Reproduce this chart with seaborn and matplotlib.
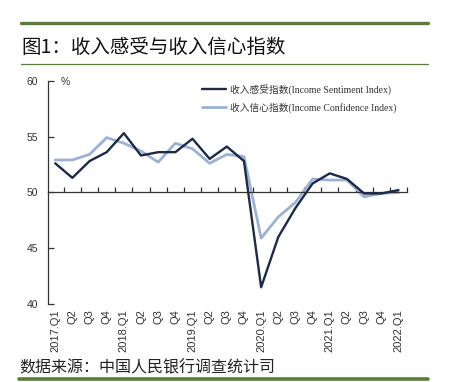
import matplotlib
matplotlib.use("Agg")
import matplotlib.pyplot as plt
from matplotlib.lines import Line2D
import seaborn as sns
import pandas as pd
import numpy as np

quarters = ["2017.Q1", "Q2", "Q3", "Q4", "2018.Q1", "Q2", "Q3", "Q4",
            "2019.Q1", "Q2", "Q3", "Q4", "2020.Q1", "Q2", "Q3", "Q4",
            "2021.Q1", "Q2", "Q3", "Q4", "2022.Q1"]
sentiment = [52.6, 51.3, 52.8, 53.6, 55.3, 53.3, 53.6, 53.6, 54.8, 53.0, 54.1,
             52.8, 41.5, 46.0, 48.6, 50.8, 51.7, 51.2, 49.9, 49.9, 50.2]
confidence = [52.9, 52.9, 53.4, 54.9, 54.4, 53.7, 52.7, 54.4, 53.9, 52.6, 53.4,
              53.2, 45.9, 47.8, 49.1, 51.2, 51.1, 51.1, 49.6, 49.9, 50.0]
series_names = ["收入感受指数(Income Sentiment Index)", "收入信心指数(Income Confidence Index)"]
yticks = [40, 45, 50, 55, 60]

title_text = "图1：收入感受与收入信心指数"
source_text = "数据来源：中国人民银行调查统计司"

sns.set_theme(style="white")
plt.rcParams['font.family'] = ['Noto Sans CJK SC', 'DejaVu Sans']

dark = "#1c2a4a"
light = "#9bb1d6"
green = "#5a7b3a"

n = len(quarters)
df = pd.DataFrame({
    "idx": list(range(n)) * 2,
    "value": sentiment + confidence,
    "series": [series_names[0]] * n + [series_names[1]] * n,
})

fig = plt.figure(figsize=(4.49, 3.82), dpi=100)
ax = fig.add_axes([48/449, 1-304/382, (407-48)/449, (304-80.7)/382])

sns.lineplot(data=df, x="idx", y="value", hue="series",
             palette={series_names[0]: dark, series_names[1]: light},
             ax=ax, legend=False, linewidth=1.6)
for line, lw in zip(ax.lines, [1.7, 2.0]):
    line.set_linewidth(lw)
ax.lines[0].set_zorder(3)
ax.lines[1].set_zorder(2)

ax.set_xlim(-0.42, 20.5)
ax.set_ylim(40, 60)
ax.set_yticks(yticks)
ax.set_yticklabels([str(v) for v in yticks], fontsize=7.5, color="#333333",
                   family=['Liberation Sans', 'DejaVu Sans'])
ax.tick_params(axis='y', direction='in', length=4, width=0.9, color="#333333", pad=7, left=True)
ax.set_xlabel("")
ax.set_ylabel("")
for s in ["top", "right"]:
    ax.spines[s].set_visible(False)
ax.spines["left"].set_color("#333333")
ax.spines["left"].set_linewidth(0.9)
ax.spines["bottom"].set_position(("data", 50))
ax.spines["bottom"].set_color("#333333")
ax.spines["bottom"].set_linewidth(0.9)
ax.set_xticks(np.arange(0.5, n, 1.0))
ax.set_xticklabels([])
ax.tick_params(axis='x', direction='in', length=3.5, width=0.9, color="#333333", bottom=True)

sec = ax.secondary_xaxis(0)
sec.set_xticks(range(n))
sec.set_xticklabels(quarters, rotation=90, fontsize=8, color="#333333",
                    family=['Liberation Sans', 'DejaVu Sans'])
sec.tick_params(axis='x', length=0, pad=4)
sec.spines["bottom"].set_visible(False)

ax.text(0.047, 0.995, "%", transform=ax.transAxes, fontsize=7.5, color="#333333",
        ha="center", va="center", family=['Liberation Sans', 'DejaVu Sans'])

handles = [Line2D([0], [0], color=dark, lw=1.7), Line2D([0], [0], color=light, lw=2.0)]
leg = ax.legend(handles, series_names, loc="upper left", bbox_to_anchor=(0.43, 0.985),
                frameon=False, handlelength=2.4, handletextpad=0.4, labelspacing=0.75,
                borderpad=0, borderaxespad=0,
                prop={'family': ['Liberation Serif', 'Noto Sans CJK SC'], 'size': 7})
for t in leg.get_texts():
    t.set_color("#333333")

fig.add_artist(Line2D([21/449, 428/449], [1-23.3/382]*2, color=green, lw=2.4,
                      transform=fig.transFigure))
fig.add_artist(Line2D([21/449, 428/449], [1-64/382]*2, color=green, lw=0.9,
                      transform=fig.transFigure))
fig.add_artist(Line2D([19/449, 428/449], [1-379/382]*2, color=green, lw=2.6,
                      transform=fig.transFigure))
fig.text(21/449, 1-47/382, title_text, fontsize=14, fontweight="medium",
         ha="left", va="center", color="#111111")
fig.text(19/449, 1-368/382, source_text, fontsize=11.5,
         ha="left", va="center", color="#222222")

fig.savefig("out.png", dpi=100, facecolor="white")
